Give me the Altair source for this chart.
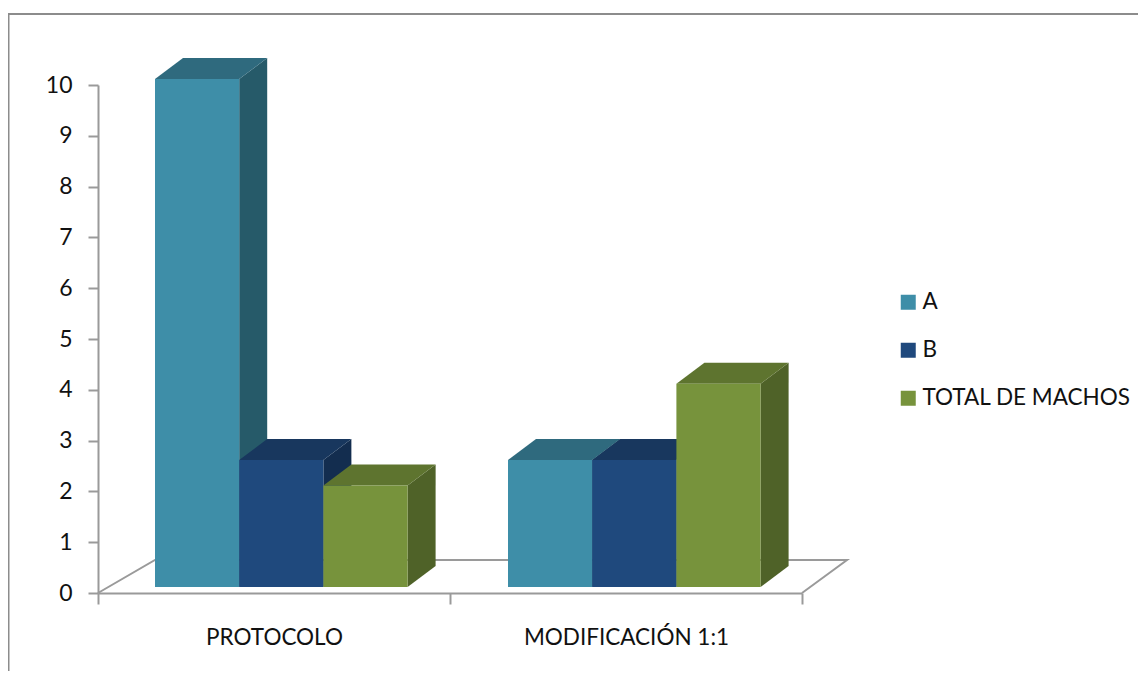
import altair as alt
import pandas as pd

categories = ["PROTOCOLO", "MODIFICACIÓN 1:1"]
series = ["A", "B", "TOTAL DE MACHOS"]
values_a = [10, 2.5]
values_b = [2.5, 2.5]
values_total = [2, 4]
front_colors = ["#3E8EA8", "#1F497D", "#77933C"]
top_colors = ["#2F6A7E", "#18375E", "#5E742F"]
side_colors = ["#265A69", "#132D4F", "#4F6228"]
y_ticks = list(range(0, 11))

FONT = "Lato"
FS = 22.5
GRAY = "#9A9A9A"
W, H = 704, 508
U = H / 10            # pixels per value unit
BASE = 6 / U          # bars stand slightly behind the front edge
DX, DY = 28, 21 / U   # depth of the 3-D extrusion
GROUP_START = [57, 410]
SLOT = 84.2

front, tops, sides = [], [], []
for s, vals in enumerate([values_a, values_b, values_total]):
    for c, v in enumerate(vals):
        x0 = GROUP_START[c] + s * SLOT
        x1 = x0 + SLOT
        t = v + BASE
        key = f"{s}-{c}"
        front.append(dict(series=series[s], x0=x0, x1=x1, y0=BASE, y1=t))
        for x, a, b in [(x0, t, t), (x0 + DX, t + DY, t), (x1, t + DY, t), (x1 + DX, t + DY, t + DY)]:
            tops.append(dict(series=series[s], key=key, x=x, a=a, b=b))
        for x, a, b in [(x1, t, BASE), (x1 + DX, t + DY, BASE + DY)]:
            sides.append(dict(series=series[s], key=key, x=x, a=a, b=b))

xq = alt.Scale(domain=[0, W], range=[0, W], nice=False, zero=False)
yq = alt.Scale(domain=[0, 10], nice=False)
y_axis = alt.Axis(values=y_ticks, tickSize=10, tickColor=GRAY, tickWidth=2,
                  domainColor=GRAY, domainWidth=2, labelFont=FONT, labelFontSize=23,
                  labelColor="#111111", labelPadding=16, grid=False, format="d", title=None)
floor_pts = pd.DataFrame({
    "x": [0, 57, 749, 704],
    "y": [0, 33 / U, 33 / U, 0],
    "o": [0, 1, 2, 3],
})

axis_layer = alt.Chart(pd.DataFrame({"cat": categories, "v": [0, 0]})).mark_rule(opacity=0).encode(
    x=alt.X("cat:N", sort=categories, title=None,
            scale=alt.Scale(paddingInner=0, paddingOuter=0, align=0.5),
            axis=alt.Axis(labelAngle=0, tickBand="extent", tickSize=11, tickColor=GRAY, tickWidth=2,
                          domainColor=GRAY, domainWidth=2, labelFont=FONT, labelFontSize=FS,
                          labelColor="#111111", labelPadding=22, labelLimit=400, grid=False)),
    y=alt.Y("v:Q", scale=yq, axis=y_axis),
)

floor = alt.Chart(floor_pts).mark_line(color=GRAY, strokeWidth=2).encode(
    x=alt.X("x:Q", scale=xq, axis=None),
    y=alt.Y("y:Q", scale=yq, axis=y_axis),
    order="o:Q",
)

def faces(rows, colors):
    return alt.Chart(pd.DataFrame(rows)).mark_area(orient="vertical", opacity=1, strokeWidth=0).encode(
        x=alt.X("x:Q", scale=xq, axis=None),
        y=alt.Y("a:Q", scale=yq, axis=y_axis),
        y2="b:Q",
        detail="key:N",
        fill=alt.Fill("series:N", scale=alt.Scale(domain=series, range=colors), legend=None),
    )

side_layer = faces(sides, side_colors)
top_layer = faces(tops, top_colors)

front_layer = alt.Chart(pd.DataFrame(front)).mark_rect().encode(
    x=alt.X("x0:Q", scale=xq, axis=None),
    x2="x1:Q",
    y=alt.Y("y0:Q", scale=yq, axis=y_axis),
    y2="y1:Q",
    color=alt.Color("series:N", scale=alt.Scale(domain=series, range=front_colors), title=None,
                    legend=alt.Legend(orient="none", legendX=799, legendY=206, symbolType="square",
                                      symbolSize=225, symbolStrokeWidth=0, symbolOpacity=1,
                                      labelFont=FONT, labelFontSize=FS, labelColor="#111111",
                                      labelOffset=3, rowPadding=25, padding=0, labelLimit=300)),
)

BORDER = "#8C8C8C"
left_border = alt.Chart(pd.DataFrame({"k": [0]})).mark_rule(color=BORDER, strokeWidth=3).encode(
    x=alt.value(-90), y=alt.value(-71), y2=alt.value(586))
top_border = alt.Chart(pd.DataFrame({"k": [0]})).mark_rule(color=BORDER, strokeWidth=2).encode(
    x=alt.value(-90), x2=alt.value(1040), y=alt.value(-71))

chart = alt.layer(
    left_border, top_border, axis_layer, floor, side_layer, top_layer, front_layer
).resolve_scale(
    x="independent", fill="independent", color="independent"
).properties(
    width=W, height=H,
    padding={"left": 90, "top": 77, "right": 336, "bottom": 78},
    autosize=alt.AutoSizeParams(type="none"),
    background="white",
).configure_view(stroke=None)

chart.save("out.html", embed_options={"renderer": "svg", "actions": False})
